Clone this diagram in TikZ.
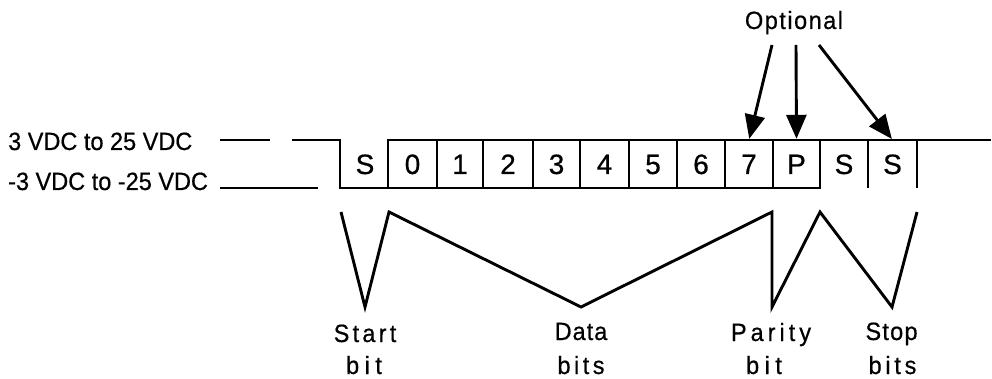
\documentclass[tikz,border=0pt]{standalone}
\usepackage{fontspec}
\setmainfont[FakeBold=0.6]{Liberation Sans}
\newfontfamily\lblfont[FakeStretch=0.94,FakeBold=0.6]{Liberation Sans}
\usetikzlibrary{arrows.meta}
\newcommand{\ls}[2]{{\addfontfeature{LetterSpace=#1}#2}}
\tikzset{
  wire/.style={line width=2.9pt},
  lbl/.style={inner sep=0pt, font=\lblfont\fontsize{25}{29}\selectfont},
  cell/.style={inner sep=0pt, minimum width=48pt, minimum height=48pt, text height=20pt, text depth=0pt, font=\fontsize{28}{32}\selectfont},
  optarrow/.style={line width=2.9pt, -{Triangle[length=24pt,width=20pt]}, shorten >=1pt},
}
\begin{document}
\begin{tikzpicture}[x=1pt,y=-1pt]
\useasboundingbox (0,0) rectangle (992,379);
% level labels
\node[lbl, anchor=base west] (hi) at (8,150) {3 VDC to 25 VDC};
\node[lbl, anchor=base west] (lo) at (8,190) {-3 VDC to -25 VDC};
% cells
\foreach \n/\x/\t in {cS/365/S, c0/412.5/0, c1/460/1, c2/508/2, c3/556.5/3, c4/604.5/4, c5/653/5, c6/701/6, c7/749/7, cP/796.5/P, cS1/844/S, cS2/892.5/S}
  \node[cell] (\n) at (\x,164) {\t};
% waveform
\coordinate (h1) at (220,140); \coordinate (h2) at (270,140);
\coordinate (h3) at (292,140);
\coordinate (l1) at (220,188); \coordinate (l2) at (318,188);
\draw[wire] (h1) -- (h2);
\draw[wire] (l1) -- (l2);
\draw[wire] (h3) -- (340,140) -- (340,188) -- (820,188) -- (820,140);
\draw[wire] (388,188) -- (388,140) -- (991,140);
\foreach \x in {437,483,533,580,629,677,725,773,868,917}
  \draw[wire] (\x,140) -- (\x,188);
% optional
\node[lbl, anchor=base] (opt) at (794,29) {\ls{6}{Optional}};
\coordinate (o1) at (772,45); \coordinate (o2) at (796,45); \coordinate (o3) at (819,45);
\draw[optarrow] (o1) -- (c7.north);
\draw[optarrow] (o2) -- (cP.north);
\draw[optarrow] (o3) -- (cS2.north);
% braces
\coordinate (v1) at (341,212); \coordinate (v2) at (365,307); \coordinate (v3) at (389,212);
\coordinate (v4) at (581,307); \coordinate (v5) at (772,212); \coordinate (v6) at (772,307);
\coordinate (v7) at (820,212); \coordinate (v8) at (892,307); \coordinate (v9) at (917,212);
\draw[wire] (v1) -- (v2) -- (v3) -- (v4) -- (v5) -- (v6) -- (v7) -- (v8) -- (v9);
% bottom labels
\node[lbl, anchor=base] (st1) at (365,342) {\ls{13}{Start}};
\node[lbl, anchor=base] (st2) at (364,374) {\ls{22}{bit}};
\node[lbl, anchor=base] (da1) at (581,340) {\ls{4}{Data}};
\node[lbl, anchor=base] (da2) at (581,374) {\ls{14}{bits}};
\node[lbl, anchor=base] (pa1) at (771,341) {\ls{16}{Parity}};
\node[lbl, anchor=base] (pa2) at (764,374) {\ls{22}{bit}};
\node[lbl, anchor=base] (sp1) at (891.5,340) {\ls{5}{Stop}};
\node[lbl, anchor=base] (sp2) at (892.5,374) {\ls{15}{bits}};
\end{tikzpicture}
\end{document}
